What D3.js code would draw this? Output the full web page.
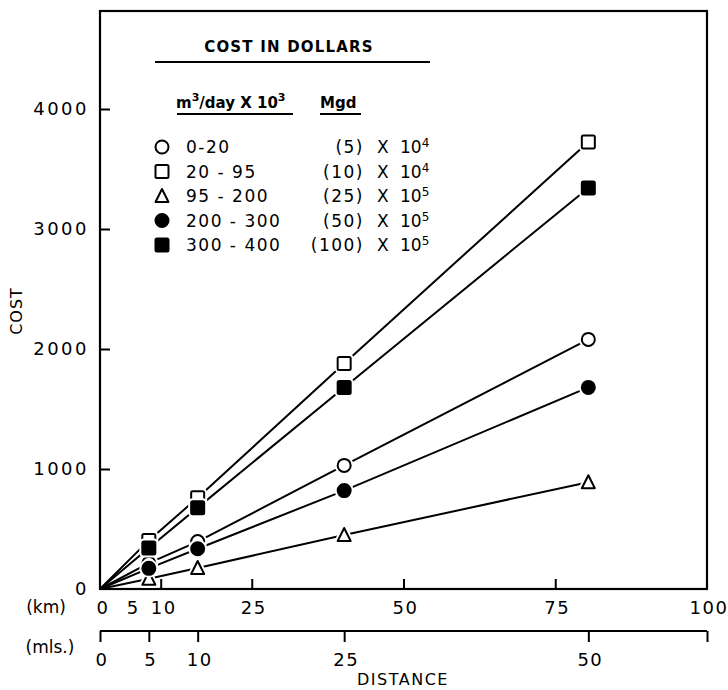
<!DOCTYPE html>
<html><head><meta charset="utf-8">
<script src="https://cdn.jsdelivr.net/npm/d3@7"></script>
<style>
body{margin:0;background:#fff;}
text{font-family:"DejaVu Sans",sans-serif;fill:#000;}
</style></head>
<body><svg id="c" width="728" height="690"></svg>
<script>
// ---- data ----
const miles = [5, 10, 25, 50];
const kmPerMile = 1.609;
const kmTicks = [10, 25, 50, 75];
const kmLabels = [0, 5, 10, 25, 50, 75, 100];
const mileTicks = [0, 5, 10, 25, 50];
const costTicks = [1000, 2000, 3000, 4000];
const costLabels = [0, 1000, 2000, 3000, 4000];

const seriesNames = ["0-20", "20 - 95", "95 - 200", "200 - 300", "300 - 400"];
const mgdLabels = ["(5)", "(10)", "(25)", "(50)", "(100)"];
const mgdExp = ["4", "4", "5", "5", "5"];
const shapes = ["circle", "square", "triangle", "circle", "square"];
const filled = [false, false, false, true, true];
const cost_0_20 = [215, 395, 1030, 2080];
const cost_20_95 = [405, 760, 1880, 3725];
const cost_95_200 = [85, 175, 450, 890];
const cost_200_300 = [172, 335, 820, 1680];
const cost_300_400 = [342, 678, 1680, 3342];
const seriesValues = [cost_0_20, cost_20_95, cost_95_200, cost_200_300, cost_300_400];

// ---- layout ----
const svg = d3.select("#c");
const L = 100, R = 707, T = 11, B = 589;
const x = d3.scaleLinear().domain([0, 100]).range([L, R]);
const y = d3.scaleLinear().domain([0, 4000]).range([B, B - 480]);

// frame
svg.append("rect").attr("x", L).attr("y", T).attr("width", R - L).attr("height", B - T)
  .attr("fill", "none").attr("stroke", "#000").attr("stroke-width", 2.2);

// y axis ticks (inward)
const yAxis = d3.axisRight(y).tickValues(costTicks).tickSize(10).tickFormat("");
const gy = svg.append("g").attr("transform", `translate(${L},0)`).call(yAxis);
gy.select(".domain").remove();
gy.selectAll("line").attr("stroke-width", 2);
svg.append("g").selectAll("text").data(costLabels).join("text")
  .attr("x", 89).attr("y", d => y(d)).attr("dy", "0.36em")
  .attr("text-anchor", "end").attr("font-size", 18).attr("letter-spacing", 2.5)
  .text(d => d);

// x km ticks (inward)
const xAxis = d3.axisTop(x).tickValues(kmTicks).tickSize(10).tickFormat("");
const gx = svg.append("g").attr("transform", `translate(0,${B})`).call(xAxis);
gx.select(".domain").remove();
gx.selectAll("line").attr("stroke-width", 2);
svg.append("g").selectAll("text").data(kmLabels).join("text")
  .attr("x", d => x(d) + (d < 25 ? 3 : 2)).attr("y", 608).attr("dy", "0.36em")
  .attr("text-anchor", "middle").attr("font-size", 18).attr("letter-spacing", 1.5)
  .text(d => d);
svg.append("text").attr("x", 46).attr("y", 607).attr("dy", "0.36em").attr("text-anchor", "middle")
  .attr("font-size", 17).text("(km)");

// miles axis
const xm = d3.scaleLinear().domain([0, 100 / kmPerMile]).range([L, R]);
const mAxis = d3.axisBottom(xm).tickValues(mileTicks.concat([100 / kmPerMile])).tickSize(11).tickFormat("");
const gm = svg.append("g").attr("transform", `translate(0,631)`).call(mAxis);
gm.select(".domain").attr("d", `M${L},0H${R}`).attr("stroke-width", 2);
gm.selectAll("line").attr("stroke-width", 2);
svg.append("g").selectAll("text").data(mileTicks).join("text")
  .attr("x", d => xm(d) + 2).attr("y", 660).attr("dy", "0.36em")
  .attr("text-anchor", "middle").attr("font-size", 18).attr("letter-spacing", 1.5)
  .text(d => d);
svg.append("text").attr("x", 50).attr("y", 647).attr("dy", "0.36em").attr("text-anchor", "middle")
  .attr("font-size", 17).text("(mls.)");
svg.append("text").attr("x", 403).attr("y", 679).attr("dy", "0.36em").attr("text-anchor", "middle")
  .attr("font-size", 16).attr("letter-spacing", 1.5).text("DISTANCE");
svg.append("text").attr("transform", "translate(16,311) rotate(-90)").attr("dy", "0.36em")
  .attr("text-anchor", "middle").attr("font-size", 16).attr("letter-spacing", 1).text("COST");

// marker drawing
function drawMarker(g, shape, cx, cy, fill, halo) {
  const sw = halo ? 6 : 2;
  const st = halo ? "#fff" : "#000";
  const fc = halo ? "#fff" : (fill ? "#000" : "#fff");
  if (shape === "circle") {
    g.append("circle").attr("cx", cx).attr("cy", cy).attr("r", 6.5)
      .attr("fill", fc).attr("stroke", st).attr("stroke-width", sw);
  } else if (shape === "square") {
    g.append("rect").attr("x", cx - 6.5).attr("y", cy - 6.5).attr("width", 13).attr("height", 13)
      .attr("rx", 1.5).attr("fill", fc).attr("stroke", st).attr("stroke-width", sw);
  } else {
    const h = 12, w = 13;
    g.append("path").attr("d", `M${cx},${cy - h / 2 - 1}L${cx + w / 2},${cy + h / 2}L${cx - w / 2},${cy + h / 2}Z`)
      .attr("fill", fc).attr("stroke", st).attr("stroke-width", sw).attr("stroke-linejoin", "round");
  }
}

// lines
const line = d3.line().x(d => x(d[0])).y(d => y(d[1]));
seriesValues.forEach((vals, i) => {
  const pts = [[0, 0]].concat(miles.map((m, j) => [m * kmPerMile, vals[j]]));
  svg.append("path").attr("d", line(pts)).attr("fill", "none").attr("stroke", "#000").attr("stroke-width", 2);
});
// markers (halo first, then marker)
const mg = svg.append("g");
seriesValues.forEach((vals, i) => {
  miles.forEach((m, j) => {
    drawMarker(mg, shapes[i], x(m * kmPerMile), y(vals[j]), filled[i], true);
    drawMarker(mg, shapes[i], x(m * kmPerMile), y(vals[j]), filled[i], false);
  });
});

// legend
const lg = svg.append("g");
lg.append("text").attr("x", 289).attr("y", 47).attr("dy", "0.36em").attr("text-anchor", "middle")
  .attr("font-size", 15).attr("font-weight", "bold").attr("letter-spacing", 1.2).text("COST IN DOLLARS");
lg.append("line").attr("x1", 155).attr("x2", 430).attr("y1", 62).attr("y2", 62).attr("stroke", "#000").attr("stroke-width", 2);
const h1 = lg.append("text").attr("x", 176).attr("y", 108).attr("font-size", 15).attr("font-weight", "bold");
h1.append("tspan").text("m");
h1.append("tspan").attr("dy", -7).attr("font-size", 11).text("3");
h1.append("tspan").attr("dy", 7).text("/day X 10");
h1.append("tspan").attr("dy", -7).attr("font-size", 11).text("3");
lg.append("line").attr("x1", 177).attr("x2", 293).attr("y1", 114).attr("y2", 114).attr("stroke", "#000").attr("stroke-width", 2);
lg.append("text").attr("x", 320).attr("y", 108).attr("font-size", 15).attr("font-weight", "bold").text("Mgd");
lg.append("line").attr("x1", 320).attr("x2", 361).attr("y1", 114).attr("y2", 114).attr("stroke", "#000").attr("stroke-width", 2);

seriesNames.forEach((nm, i) => {
  const cy = 147 + i * 24.5;
  drawMarker(lg, shapes[i], 162, cy, filled[i], false);
  lg.append("text").attr("x", 186).attr("y", cy).attr("dy", "0.36em").attr("font-size", 17)
    .attr("letter-spacing", 1.5).text(nm);
  lg.append("text").attr("x", 364).attr("y", cy).attr("dy", "0.36em").attr("text-anchor", "end")
    .attr("font-size", 17).attr("letter-spacing", 1.5).text(mgdLabels[i]);
  lg.append("text").attr("x", 377).attr("y", cy).attr("dy", "0.36em").attr("font-size", 17).text("X");
  const t = lg.append("text").attr("x", 400).attr("y", cy).attr("dy", "0.36em").attr("font-size", 17);
  t.append("tspan").text("10");
  t.append("tspan").attr("dy", -6).attr("font-size", 12).text(mgdExp[i]);
});
</script></body></html>
